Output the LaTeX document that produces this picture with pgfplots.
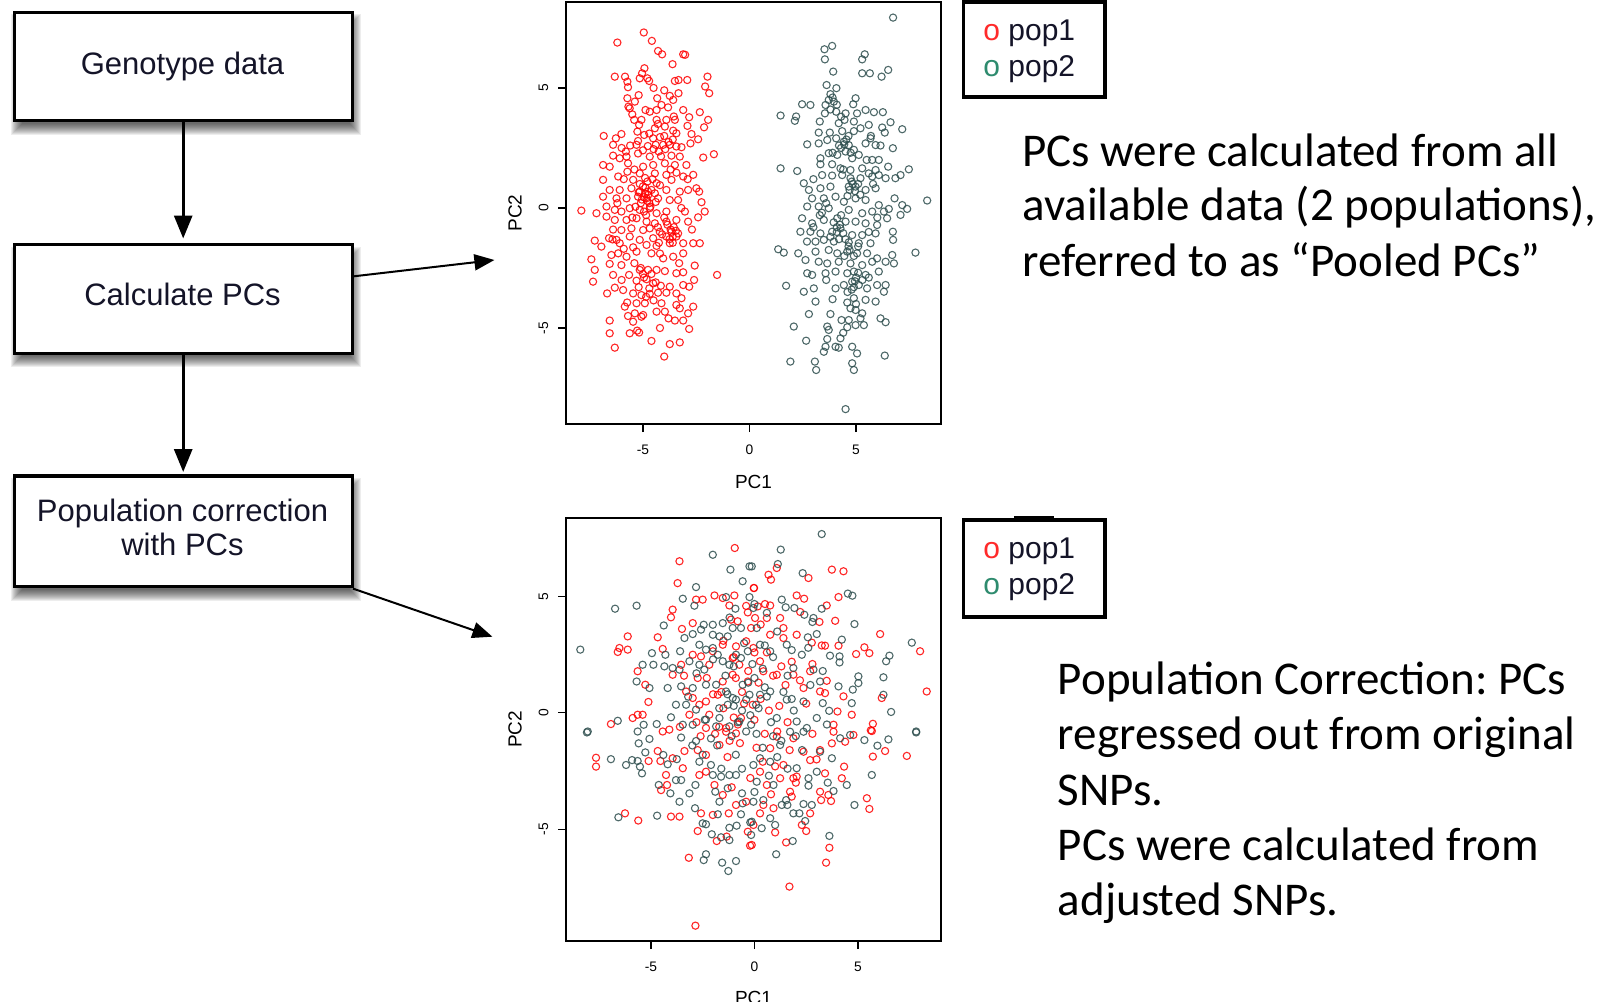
\documentclass[border=0pt]{standalone}
\usepackage{fontspec}
\setmainfont{Liberation Sans}
\newfontfamily\calibri{Carlito}
\usepackage{pgfplots}
\pgfplotsset{compat=1.18}
\usetikzlibrary{arrows.meta}

\definecolor{popred}{HTML}{FF0000}
\definecolor{popgrey}{HTML}{2F4F4F}
\definecolor{legred}{HTML}{FF2A2A}
\definecolor{leggreen}{HTML}{2E8B6E}
\definecolor{boxtext}{HTML}{141428}

% flowchart box with a soft drop shadow (coordinates in px, y downwards)
\newcommand{\flowbox}[4]{%
  \foreach \k in {0,...,11}{%
    \fill[black, opacity=0.07] ({#1-3+\k},{-(#2+2+\k)}) rectangle ({#3+9-\k},{-(#4+14-\k)});
  }%
  \filldraw[fill=white, draw=black, line width=1.6pt] (#1,-#2) rectangle (#3,-#4);
}

\pgfplotsset{
  pcaxis/.style={
    scale only axis,
    width=187.5pt,
    axis line style={line width=0.6pt},
    tick style={line width=0.6pt, black},
    tick align=outside,
    major tick length=4pt,
    tick pos=left,
    xtick={-5,0,5}, ytick={-5,0,5},
    /pgf/number format/assume math mode=true,
    ticklabel style={font=\fontsize{6.9pt}{8pt}\selectfont, text=black},
    xticklabel style={anchor=center, yshift=-8.7pt},
    yticklabel style={xshift=-7.25pt, rotate=90, anchor=center},
    xlabel={PC1}, ylabel={PC2},
    label style={font=\fontsize{9.5pt}{11pt}\selectfont},
    ylabel style={at={(axis description cs:-0.136,0.5)}, anchor=center},
    clip=false,
  },
  redpts/.style={only marks, mark=o, mark size=1.8pt,
    mark options={line width=0.55pt, draw=popred, draw opacity=0.85}},
  greypts/.style={only marks, mark=o, mark size=1.8pt,
    mark options={line width=0.55pt, draw=popgrey, draw opacity=0.85}},
}

\begin{document}
\frenchspacing
\begin{tikzpicture}[x=0.5pt,y=0.5pt]
\useasboundingbox (0,0) rectangle (1605,-1001);
\begin{scope}
\clip (0,0) rectangle (1605,-1001);

% ---------------- flowchart ----------------
\flowbox{14.3}{12.3}{352.1}{120.8}
\flowbox{14.3}{244.6}{352.1}{353.1}
\flowbox{14.3}{476}{352.1}{586.5}

\begin{scope}[font=\fontsize{15.5pt}{17pt}\selectfont, text=boxtext]
\node[anchor=base, inner sep=0] at (182.5,-74) {Genotype data};
\node[anchor=base, inner sep=0] at (182.5,-305) {Calculate PCs};
\node[anchor=base, inner sep=0] at (182.5,-521) {Population correction};
\node[anchor=base, inner sep=0] at (182.5,-555) {with PCs};
\end{scope}

\draw[line width=1.5pt, -{Triangle[length=11.5pt,width=9pt]}] (183.2,-122) -- (183.2,-238.5);
\draw[line width=1.5pt, -{Triangle[length=11.5pt,width=9pt]}] (183.2,-354) -- (183.2,-472);
\draw[line width=1pt, -{Triangle[length=10pt,width=8pt]}] (353,-276.4) -- (494.4,-260);
\draw[line width=1pt, -{Triangle[length=10pt,width=8pt]}] (353,-588.6) -- (492.4,-636.7);

% ---------------- pooled PCs ----------------
\begin{axis}[pcaxis,
  at={(283pt,-212pt)}, anchor=south west,
  height=211pt,
  xmin=-8.61, xmax=8.99, ymin=-9.0, ymax=8.58,
  xlabel style={at={(axis description cs:0.5,-0.1374)}, anchor=center},
]
\addplot[redpts] coordinates {
(-4.96,7.31) (-6.20,6.89) (-4.58,6.96) (-4.29,6.54) (-4.10,6.40) (-3.11,6.40) (-3.02,6.38) (-3.61,5.99)
(-4.93,5.82) (-5.04,5.61) (-6.32,5.47) (-5.84,5.47) (-5.15,5.40) (-4.79,5.40) (-4.71,5.29) (-5.73,5.26)
(-5.70,5.03) (-3.50,5.29) (-3.33,5.33) (-2.92,5.33) (-1.97,5.47) (-2.08,5.06) (-1.89,4.78) (-3.33,4.78)
(-3.74,4.67) (-3.58,4.50) (-4.33,4.57) (-5.73,4.57) (-5.38,4.43) (-5.68,4.22) (-5.62,4.15) (-3.82,4.19)
(-4.13,4.29) (-4.88,4.08) (-4.68,4.01) (-4.36,4.08) (-3.11,4.08) (-2.33,3.99) (-3.55,3.81) (-3.50,3.67)
(-2.83,3.78) (-1.94,3.67) (-2.13,3.36) (-5.41,3.67) (-5.07,3.67) (-4.36,3.67) (-3.90,3.67) (-5.18,3.46)
(-4.44,3.32) (-3.97,3.39) (-2.91,3.42) (-6.84,3.00) (-6.27,2.90) (-6.01,3.08) (-5.26,3.18) (-4.94,3.04)
(-3.58,3.22) (-3.43,3.11) (-2.72,3.08) (-2.41,2.86) (-2.77,2.69) (-4.52,2.90) (-5.23,2.79) (-6.40,2.63)
(-5.30,2.63) (-4.77,2.58) (-4.40,2.63) (-4.05,2.63) (-3.74,2.63) (-3.43,2.56) (-3.19,2.53) (-2.17,2.10)
(-1.67,2.24) (-5.80,2.35) (-5.77,2.14) (-5.23,2.27) (-4.68,2.14) (-4.26,2.35) (-3.66,2.18) (-3.27,2.14)
(-6.40,2.18) (-6.87,1.79) (-6.56,1.72) (-6.09,2.07) (-5.70,1.86) (-4.99,1.72) (-4.52,1.79) (-3.97,1.86)
(-3.50,1.79) (-2.96,1.79) (-5.73,1.51) (-5.15,1.44) (-4.44,1.44) (-3.90,1.38) (-3.43,1.47) (-2.64,1.38)
(-6.87,1.17) (-6.16,1.31) (-5.46,1.17) (-4.79,1.10) (-4.36,1.03) (-3.66,1.17) (-3.11,1.31) (-6.56,0.75)
(-6.09,0.75) (-5.54,0.82) (-5.15,0.68) (-4.76,0.68) (-4.44,0.61) (-3.90,0.75) (-3.27,0.68) (-2.88,0.75)
(-2.49,0.82) (-2.36,0.68) (-6.87,0.47) (-6.24,0.40) (-5.77,0.40) (-5.23,0.47) (-4.83,0.40) (-4.29,0.40)
(-3.74,0.33) (-3.35,0.33) (-2.25,0.24) (-7.89,-0.11) (-7.18,-0.22) (-6.71,0.06) (-6.32,-0.08) (-6.01,-0.15)
(-5.62,-0.01) (-5.15,-0.08) (-4.68,-0.01) (-4.36,-0.22) (-3.90,-0.15) (-3.03,-0.15) (-2.10,-0.15) (-2.41,-0.39)
(-6.71,-0.36) (-6.32,-0.50) (-5.77,-0.50) (-5.30,-0.43) (-4.83,-0.57) (-4.44,-0.64) (-3.90,-0.57) (-3.43,-0.50)
(-2.88,-0.57) (-6.01,-0.92) (-5.54,-0.85) (-4.99,-0.92) (-4.68,-0.85) (-4.21,-0.99) (-3.66,-0.99) (-3.35,-1.06)
(-7.26,-1.36) (-6.59,-1.26) (-6.43,-1.31) (-6.24,-1.33) (-5.62,-1.19) (-5.15,-1.33) (-4.52,-1.26) (-3.90,-1.19)
(-3.43,-1.19) (-6.95,-1.61) (-6.09,-1.47) (-5.46,-1.64) (-4.83,-1.54) (-4.36,-1.58) (-3.74,-1.47) (-3.11,-1.47)
(-2.64,-1.47) (-2.33,-1.47) (-7.42,-2.14) (-6.48,-1.96) (-6.16,-1.89) (-5.77,-2.03) (-5.30,-1.82) (-4.60,-1.89)
(-4.05,-2.10) (-3.58,-2.03) (-3.11,-1.89) (-7.26,-2.58) (-6.56,-2.33) (-6.01,-2.38) (-5.15,-2.58) (-4.76,-2.58)
(-4.36,-2.58) (-3.97,-2.63) (-3.43,-2.72) (-3.11,-2.68) (-2.57,-2.40) (-1.52,-2.79) (-7.34,-3.07) (-6.40,-2.79)
(-5.65,-2.79) (-5.30,-3.03) (-4.83,-2.97) (-4.52,-3.14) (-4.16,-3.24) (-3.74,-3.28) (-3.11,-3.21) (-2.83,-3.28)
(-6.68,-3.56) (-6.32,-3.32) (-5.93,-3.42) (-5.46,-3.56) (-5.07,-3.63) (-4.68,-3.58) (-4.29,-3.53) (-3.90,-3.53)
(-3.43,-3.56) (-3.19,-3.76) (-5.74,-3.94) (-5.30,-3.97) (-4.91,-3.97) (-4.13,-3.97) (-3.43,-4.04) (-2.64,-4.11)
(-5.85,-4.11) (-5.38,-4.39) (-4.99,-4.46) (-4.36,-4.32) (-3.97,-4.32) (-3.27,-4.18) (-2.88,-4.39) (-6.56,-4.69)
(-5.46,-4.74) (-5.07,-4.53) (-3.50,-4.69) (-3.11,-4.69) (-5.62,-5.22) (-5.27,-5.11) (-5.18,-5.19) (-6.56,-5.22)
(-2.83,-5.04) (-4.60,-5.54) (-3.74,-5.67) (-3.27,-5.60) (-6.32,-5.82) (-4.00,-6.19)
(-4.90,0.60) (-4.80,0.30) (-5.00,0.90) (-4.70,0.20) (-4.95,0.45) (-4.60,0.75) (-5.10,0.20) (-4.85,-0.30)
(-4.30,-0.80) (-3.70,-0.90) (-3.60,-1.20) (-4.10,-1.10) (-3.80,2.75) (-3.95,2.45) (-4.90,1.25) (-5.35,0.05)
(-4.25,-1.45) (-5.00,-2.75) (-4.70,-3.35) (-4.20,2.95)
(-4.88,0.85) (-4.75,0.55) (-5.05,0.35) (-4.65,0.05) (-4.95,-0.15) (-5.20,0.65) (-4.55,1.20) (-5.15,1.00)
(-4.40,0.25) (-4.20,0.95) (-3.55,-0.80) (-3.75,-1.30) (-3.45,-0.95) (-3.85,-0.70) (-3.60,-1.45) (-4.00,-0.40)
(-4.95,-2.90) (-4.60,-2.75) (-5.20,-3.30) (-4.40,-3.10) (-4.85,-3.70) (-4.50,-3.85) (-5.10,-2.50) (-4.50,2.45)
(-4.15,2.15) (-4.70,3.10) (-4.00,3.00) (-3.60,2.85) (-5.00,2.40) (-4.30,3.50) (-5.60,2.60) (-5.90,1.20)
(-6.20,0.20) (-5.50,-0.40) (-6.40,-0.90) (-5.90,-1.70) (-5.40,-2.30) (-4.20,-1.90) (-3.30,-2.30) (-3.20,0.00)
(-2.70,-0.90) (-2.90,1.20) (-3.70,1.60) (-5.40,1.60) (-6.00,2.50) (-5.50,3.90) (-4.00,4.90) (-4.50,5.00)
(-5.20,4.70) (-3.80,-4.60) (-5.70,-4.50) (-4.20,-5.00) (-6.00,-3.00) (-2.60,-3.00)
};
\addplot[greypts] coordinates {
(6.74,7.93) (3.52,6.61) (3.88,6.75) (3.54,6.19) (5.41,6.40) (5.29,6.19) (3.93,5.68) (5.29,5.61)
(5.65,5.61) (6.20,5.47) (6.51,5.75) (3.62,5.12) (4.08,4.99) (3.80,4.74) (3.72,4.50) (3.96,4.43)
(3.57,4.29) (4.98,4.57) (4.87,4.32) (2.47,4.32) (2.86,4.29) (1.46,3.85) (2.19,3.81) (2.13,3.63)
(3.54,3.94) (4.07,4.01) (4.51,3.94) (5.05,3.94) (5.45,4.08) (5.84,3.99) (6.26,3.99) (6.62,3.57)
(7.17,3.28) (3.25,3.14) (3.77,3.14) (4.19,3.53) (4.46,3.67) (4.90,3.60) (5.21,3.32) (5.60,3.46)
(6.23,3.35) (6.35,3.14) (2.71,2.65) (3.25,2.69) (3.65,2.83) (4.07,2.90) (4.43,2.76) (4.66,2.62)
(4.90,2.42) (5.45,2.69) (5.68,2.90) (5.92,2.62) (6.15,2.60) (6.73,2.49) (3.33,2.07) (3.72,2.28)
(4.12,2.21) (4.51,2.35) (4.82,2.07) (5.13,2.21) (5.76,2.00) (6.07,2.00) (1.46,1.65) (2.24,1.54)
(3.33,1.82) (3.88,1.82) (4.27,1.65) (4.74,1.58) (5.29,1.65) (5.60,1.44) (5.92,1.58) (6.51,1.72)
(7.48,1.61) (7.09,1.37) (3.41,1.37) (3.88,1.35) (4.35,1.37) (4.74,1.24) (5.21,1.24) (5.76,1.31)
(6.07,1.37) (6.39,1.24) (6.85,1.24) (2.55,1.03) (2.79,0.75) (3.33,0.82) (3.80,0.89) (4.66,0.89)
(4.98,0.89) (5.45,0.75) (5.92,0.82) (6.81,0.40) (7.17,0.12) (8.34,0.31) (2.94,0.40) (3.49,0.40)
(4.04,0.47) (4.43,0.26) (4.98,0.40) (5.45,0.33) (6.07,0.12) (6.54,-0.04) (7.40,-0.04) (2.71,0.06)
(3.25,0.06) (3.72,-0.01) (4.66,-0.08) (5.29,-0.22) (5.76,-0.15) (6.31,-0.15) (7.09,-0.29) (6.46,-0.43)
(2.47,-0.43) (2.94,-0.64) (3.49,-0.50) (4.12,-0.43) (4.51,-0.57) (4.98,-0.57) (5.45,-0.64) (5.99,-0.71)
(2.39,-0.99) (2.86,-0.99) (3.33,-1.06) (3.88,-0.99) (4.27,-0.85) (4.82,-1.13) (5.29,-1.13) (5.92,-1.06)
(6.73,-0.99) (6.74,-1.33) (3.49,-1.33) (3.96,-1.40) (4.66,-1.43) (5.13,-1.47) (5.68,-1.47) (1.35,-1.72)
(1.61,-1.86) (2.29,-1.89) (2.63,-2.17) (3.10,-1.82) (3.72,-1.75) (4.12,-1.89) (4.59,-1.82) (5.05,-1.89)
(5.52,-1.89) (5.99,-2.10) (6.70,-1.96) (7.79,-1.86) (6.78,-2.31) (3.25,-2.24) (3.65,-2.31) (4.19,-2.24)
(4.74,-2.31) (5.29,-2.38) (5.76,-2.24) (6.39,-2.24) (2.71,-2.72) (2.94,-2.79) (3.57,-2.72) (4.04,-2.65)
(4.59,-2.72) (4.90,-2.65) (5.45,-2.79) (6.07,-2.65) (1.72,-3.24) (2.55,-3.49) (3.02,-3.35) (4.04,-3.35)
(4.43,-3.21) (4.82,-3.07) (5.13,-3.21) (5.52,-3.35) (5.99,-3.21) (6.39,-3.21) (6.31,-3.49) (3.10,-3.90)
(4.59,-3.94) (4.90,-3.76) (5.45,-3.83) (5.92,-3.90) (4.74,-4.18) (4.98,-4.25) (5.29,-4.39) (2.79,-4.42)
(3.80,-4.42) (4.32,-4.67) (4.66,-4.67) (5.21,-4.60) (5.37,-4.88) (6.15,-4.60) (6.39,-4.76) (2.08,-4.94)
(3.65,-4.94) (3.72,-5.08) (4.59,-4.97) (4.98,-4.88) (2.66,-5.53) (3.65,-5.46) (4.27,-5.43) (3.57,-5.78)
(4.04,-5.78) (4.19,-5.82) (3.49,-5.99) (4.82,-5.78) (5.05,-6.06) (6.35,-6.15) (1.92,-6.40) (3.07,-6.40)
(3.13,-6.75) (4.82,-6.47) (4.90,-6.75) (4.51,-8.38)
(4.55,2.85) (4.30,2.50) (4.85,1.00) (4.70,0.75) (4.25,-0.70) (4.10,-1.00) (4.65,-1.60) (4.50,-1.30)
(5.00,-2.90) (4.90,-3.30) (3.90,2.30) (3.60,0.20) (3.30,-0.30) (3.00,-0.80)
(4.45,2.65) (4.65,3.00) (4.20,2.60) (4.75,2.30) (4.35,3.20) (4.90,3.20) (4.80,1.10) (4.95,0.70)
(5.10,1.00) (4.60,0.50) (5.20,0.55) (4.40,1.60) (4.10,-0.80) (4.40,-1.05) (3.95,-0.60) (4.20,-1.30)
(3.80,-1.20) (4.30,-0.30) (4.70,-1.75) (4.90,-2.00) (4.45,-2.00) (5.10,-1.60) (4.95,-3.05) (5.10,-2.70)
(4.80,-3.40) (5.30,-3.00) (4.60,-3.50) (3.90,4.60) (4.10,4.30) (3.80,4.10) (4.30,3.80) (5.50,2.00)
(5.80,1.00) (6.00,-0.40) (5.60,-1.00) (3.40,-0.20) (3.00,1.20) (3.10,-1.40) (2.70,-1.40) (3.60,-3.00)
(5.60,-2.90) (5.00,-4.00) (3.90,-3.80) (4.40,-5.20) (5.70,3.00) (3.30,3.60)
};
\end{axis}

% ---------------- adjusted PCs ----------------
\begin{axis}[pcaxis,
  at={(283pt,-470.5pt)}, anchor=south west,
  height=211.5pt,
  xmin=-9.10, xmax=9.01, ymin=-9.81, ymax=8.38,
  xlabel style={at={(axis description cs:0.5,-0.1348)}, anchor=center},
]
\addplot[redpts] coordinates {
(-0.95,7.09) (-3.62,6.52) (-3.71,5.58) (-0.03,5.37) (-1.93,5.05) (-1.53,4.94) (-0.97,5.05) (-1.21,4.62)
(-2.82,4.87) (-2.50,4.87) (-3.95,4.44) (-4.03,4.11) (-0.32,4.32) (0.16,4.58) (-6.12,3.29) (-6.52,2.79)
(-6.60,2.62) (-6.12,2.72) (-4.67,3.25) (-3.50,3.61) (-2.98,3.86) (-4.43,2.75) (-5.64,1.79) (-5.27,1.21)
(-5.12,0.47) (-5.64,-0.08) (-5.88,-0.22) (-5.40,-0.08) (-6.93,-0.48) (-3.14,-0.08) (-2.66,0.35) (-2.34,0.49)
(-3.54,2.07) (-3.95,1.64) (-2.98,2.50) (-2.58,2.43) (-2.18,2.07) (-2.74,1.50) (-1.53,1.35) (-1.05,1.64)
(-0.73,2.07) (-0.89,2.86) (-0.40,3.08) (-0.16,3.65) (-0.81,3.94) (-1.13,4.01) (-2.01,2.65) (-1.53,2.93)
(-1.05,2.36) (-1.77,0.78) (-2.34,-0.65) (-1.37,-0.65) (-0.65,-0.22) (-0.08,0.35) (-0.32,1.35) (-2.18,-0.08)
(-3.30,0.92) (-2.98,0.64) (-4.43,-0.80) (-4.11,-0.72)
(0.68,5.94) (0.80,5.73) (1.08,6.23) (2.61,5.80) (3.74,6.16) (4.30,6.09) (2.04,5.05) (2.40,4.91)
(3.49,4.62) (4.06,4.98) (3.14,3.91) (3.90,3.96) (6.07,3.39) (8.00,2.65) (8.32,0.92) (-0.02,5.37)
(0.51,4.68) (0.76,4.62) (0.03,4.08) (0.60,4.08) (1.24,4.08) (1.40,3.65) (2.21,4.34) (2.77,3.02)
(3.25,2.90) (3.41,2.89) (4.06,2.89) (4.91,2.53) (5.31,2.82) (5.55,2.57) (6.15,0.64) (4.30,0.71)
(4.01,0.06) (4.70,-0.08) (5.72,-0.47) (3.82,-0.51) (5.62,-0.75) (3.17,0.92) (3.41,0.85) (2.37,1.07)
(1.88,1.64) (1.08,1.64) (0.43,1.79) (-0.05,2.79) (0.27,2.22) (2.69,1.79) (3.49,1.38) (1.40,3.22)
(0.76,3.36) (2.04,3.36)
(-7.65,-1.93) (-7.65,-2.31) (-5.11,-2.07) (-4.54,-2.07) (-4.67,-1.64) (-3.38,-1.64) (-4.51,-3.32) (-4.22,-3.10)
(-6.25,-4.32) (-5.61,-4.63) (-4.03,-4.46) (-3.62,-4.46) (-2.58,-4.32) (-2.01,-4.39) (-1.24,-4.32) (-2.74,-5.08)
(-1.82,-5.51) (-1.34,-5.32) (-0.32,-5.11) (-0.21,-5.71) (-3.17,-6.23) (-2.85,-9.15) (-2.66,-2.67) (-2.34,-2.53)
(-1.93,-3.10) (-1.53,-3.53) (-0.89,-3.96) (-0.40,-3.82) (-2.74,-1.60) (-2.34,-1.81) (-1.69,-1.38) (-1.37,-0.81)
(-0.89,-0.88) (-3.95,-1.95) (-3.46,-2.38) (-4.27,-2.67)
(5.67,-0.78) (5.72,-1.88) (6.31,-1.64) (7.36,-1.85) (4.33,-2.31) (4.22,-2.81) (3.41,-2.60) (2.04,-2.74)
(1.88,-2.81) (3.17,-3.39) (3.57,-3.53) (3.70,-3.79) (3.22,-3.75) (5.43,-3.67) (5.55,-4.13) (1.72,-3.39)
(1.80,-3.60) (2.69,-4.32) (2.29,-4.82) (2.50,-5.08) (1.00,-5.14) (1.53,-5.57) (3.62,-5.80) (3.46,-6.44)
(1.69,-7.47) (0.43,-3.96) (0.27,-4.32) (0.92,-4.10) (-0.05,-4.82) (2.69,-2.03) (2.37,-1.67) (3.17,-1.60)
(3.74,-1.31) (4.38,-1.24) (4.78,-0.95) (3.82,-0.81) (1.88,-1.09) (1.08,-1.02) (0.76,-1.52) (0.27,-2.53)
(0.60,-3.10) (1.24,-2.81) (1.40,-2.24) (-0.13,-5.68)
(-1.50,0.20) (-0.80,-0.50) (0.30,0.60) (-0.30,1.80) (0.50,-0.90) (1.20,0.30) (-1.20,-1.20) (-2.00,0.80)
(0.90,1.60) (-0.60,0.90) (1.60,-0.40) (-1.70,-0.60) (0.10,-1.50) (-1.00,2.40) (0.60,2.60) (2.20,1.40)
(-2.60,-1.00) (1.00,-2.30) (-0.20,-2.80) (1.80,2.20)
(-1.00,-0.20) (-0.50,0.40) (0.00,-0.30) (0.70,0.10) (1.10,-0.80) (-1.60,0.90) (-0.90,1.50) (0.20,1.30)
(1.50,1.20) (2.50,0.40) (-2.30,1.50) (-1.30,-1.90) (0.40,-2.10) (1.70,-1.60) (2.80,-0.90) (-0.70,-1.30)
(-1.90,-0.90) (-2.80,-0.40) (0.00,2.60) (1.30,2.00) (-1.50,3.10) (0.30,3.80) (2.80,2.10) (3.00,-2.00)
(-3.40,1.60) (-3.60,-0.60) (-1.10,-3.20) (0.80,-3.50) (2.00,-3.00) (-0.40,4.60)
};
\addplot[greypts] coordinates {
(-2.01,6.80) (-1.16,6.16) (-0.24,6.30) (-0.57,5.66) (-2.82,5.41) (-3.46,4.91) (-2.90,4.61) (-1.37,4.98)
(-0.92,4.48) (-0.24,4.98) (0.00,4.68) (-6.73,4.48) (-5.69,4.61) (-4.38,3.76) (-3.38,3.22) (-2.98,3.39)
(-2.58,3.58) (-2.45,3.79) (-2.01,3.79) (-1.53,3.86) (-1.05,3.65) (-0.65,3.65) (-8.41,2.72) (-4.95,2.57)
(-4.30,2.50) (-5.40,2.07) (-4.88,2.07) (-4.35,2.00) (-3.95,1.93) (-3.62,1.86) (-3.14,2.22) (-2.66,2.07)
(-2.42,1.86) (-2.01,2.79) (-1.77,2.50) (-1.53,2.22) (-1.21,2.07) (-0.89,2.50) (-0.65,2.36) (-0.32,2.65)
(-2.01,3.36) (-1.69,3.29) (-1.29,3.29) (-2.66,2.93) (-2.34,2.72) (-3.59,2.65) (-5.69,1.35) (-5.07,1.07)
(-4.19,1.07) (-3.54,1.14) (-2.98,1.07) (-2.34,1.21) (-1.85,1.21) (-1.37,0.92) (-1.05,0.64) (-0.57,1.21)
(-0.24,0.78) (0.00,1.50) (-3.79,0.35) (-3.30,0.35) (-2.82,0.14) (-2.34,-0.29) (-1.69,-0.22) (-1.29,0.35)
(-0.89,0.57) (-0.40,0.57) (0.08,0.35) (-6.60,-0.34) (-5.35,-0.51) (-4.72,-0.48) (-4.03,-0.19) (-3.46,-0.51)
(-2.98,-0.51) (-0.73,-0.37) (-0.16,-0.51) (-8.05,-0.80) (-5.64,-0.80) (-1.85,-0.58) (-1.21,-0.58)
(3.25,7.69) (1.27,7.02) (1.13,6.40) (2.33,6.01) (-0.13,6.30) (1.32,4.87) (1.51,4.54) (1.93,4.51)
(2.41,4.22) (2.85,4.08) (2.80,3.91) (3.25,4.48) (4.51,5.13) (4.73,5.04) (4.83,3.82) (3.01,3.39)
(2.58,3.25) (4.22,3.15) (3.65,2.46) (4.11,2.43) (4.11,2.17) (6.36,2.22) (6.52,2.46) (7.60,3.02)
(5.02,1.57) (5.02,1.28) (6.23,1.53) (4.06,1.14) (4.75,1.00) (6.23,0.78) (4.70,0.42) (6.60,0.04)
(7.81,-0.80) (3.61,0.09) (3.30,0.42) (3.17,1.35) (2.85,1.86) (2.29,2.50) (1.56,2.93) (0.76,2.65)
(0.27,2.93) (-0.05,4.51) (0.11,3.65) (1.88,1.93) (2.37,0.49) (1.56,0.57) (0.76,0.92) (0.27,0.78)
(1.08,-0.22) (2.04,-0.37) (3.01,-0.22) (2.53,-0.65)
(-8.09,-0.84) (-6.93,-1.99) (-6.20,-2.24) (-5.91,-2.03) (-5.64,-2.07) (-5.53,-2.31) (-5.43,-2.60) (-5.59,-1.31)
(-5.27,-1.70) (-5.07,-1.12) (-4.40,-1.81) (-4.19,-2.21) (-3.75,-1.99) (-3.54,-1.06) (-2.82,-1.21) (-2.66,-2.10)
(-2.10,-2.24) (-2.01,-2.67) (-1.61,-2.74) (-1.21,-2.67) (-0.89,-2.67) (-4.62,-3.10) (-4.06,-3.46) (-3.62,-3.82)
(-3.14,-3.46) (-2.85,-3.10) (-3.79,-2.89) (-3.54,-2.89) (-1.89,-3.39) (-1.69,-3.82) (-1.29,-3.24) (-0.60,-3.46)
(-0.57,-3.89) (-2.87,-4.10) (-1.77,-4.36) (-0.65,-4.36) (-0.20,-4.71) (-0.86,-4.85) (-1.21,-4.94) (-2.50,-4.75)
(-2.34,-4.79) (-2.06,-5.22) (-1.61,-5.35) (-1.21,-5.47) (-4.70,-4.42) (-6.57,-4.49) (-2.34,-6.08) (-2.45,-6.33)
(-1.56,-6.44) (-0.89,-6.37) (-1.26,-6.80) (-0.16,-5.25)
(7.81,-0.84) (6.47,-1.14) (5.94,-1.41) (5.67,-2.67) (5.31,-1.17) (4.62,-0.95) (4.14,-1.09) (3.74,-1.95)
(3.17,-1.67) (3.01,-2.53) (2.61,-2.81) (2.61,-3.13) (3.54,-3.00) (3.82,-3.36) (4.46,-3.10) (4.83,-3.96)
(2.37,-3.92) (2.77,-3.96) (2.17,-4.32) (2.45,-4.65) (1.88,-4.32) (1.53,-3.75) (1.32,-3.96) (1.59,-3.96)
(0.43,-3.75) (-0.05,-3.82) (-0.13,-4.68) (0.35,-4.96) (1.00,-4.82) (1.85,-5.51) (3.62,-5.29) (1.05,-6.08)
(0.76,-4.53) (0.11,-2.96) (0.27,-1.95) (0.76,-2.10) (1.24,-1.38) (1.72,-0.81) (2.37,-0.81) (2.04,-2.38)
(0.92,-3.10) (-0.05,-2.24)
(-0.60,0.10) (0.20,0.20) (0.50,1.10) (-1.00,0.30) (-0.40,-0.80) (0.80,-0.40) (1.40,0.90) (-1.40,1.60)
(-0.10,2.10) (0.90,2.40) (1.90,0.10) (-1.80,-1.40) (-0.90,-1.80) (0.40,-1.50) (1.30,-1.20) (2.30,-1.60)
(-2.40,-0.30) (-0.50,3.00) (1.10,3.50) (-1.60,-2.40) (0.00,-3.40) (2.60,2.80) (-2.80,1.70)
(-0.20,-0.10) (0.60,0.70) (-1.30,0.80) (-0.80,-0.40) (0.90,-1.00) (1.80,0.60) (-1.70,0.20) (-0.30,1.30)
(0.40,1.90) (1.60,1.60) (-2.10,-1.10) (-1.10,-1.00) (0.10,-0.90) (1.10,-1.90) (2.00,-1.00) (-1.00,2.00)
(-2.00,2.30) (0.50,2.90) (1.80,2.70) (2.70,1.20) (-0.60,-2.40) (0.70,-2.70) (1.60,-2.40) (-2.50,-1.80)
(-3.20,0.70) (-3.00,-1.40) (3.50,-0.50) (3.30,1.80) (-1.20,4.10) (0.60,4.30)
};
\end{axis}

% ---------------- legends ----------------
\draw[line width=1.6pt] (963.5,-2) rectangle (1105,-97);
\draw[line width=1.6pt] (963.5,-520) rectangle (1105,-617);
\draw[line width=1.6pt] (1014,-517.5) -- (1054,-517.5);
\begin{scope}[font=\fontsize{15pt}{17pt}\selectfont, text=boxtext]
\node[anchor=base west, inner sep=0] at (983,-40) {\textcolor{legred}{o} pop1};
\node[anchor=base west, inner sep=0] at (983,-76) {\textcolor{leggreen}{o} pop2};
\node[anchor=base west, inner sep=0] at (983,-558.5) {\textcolor{legred}{o} pop1};
\node[anchor=base west, inner sep=0] at (983,-594.5) {\textcolor{leggreen}{o} pop2};
\end{scope}

% ---------------- notes ----------------
\begin{scope}[font=\calibri\fontsize{23.5pt}{27.7pt}\selectfont]
\node[anchor=base west, inner sep=0] at (1022,-166) {PCs were calculated from all};
\node[anchor=base west, inner sep=0] at (1022,-220.5) {available data (2 populations),};
\node[anchor=base west, inner sep=0] at (1022,-276.5) {referred to as “Pooled PCs”};
\node[anchor=base west, inner sep=0] at (1057.5,-694) {Population Correction: PCs};
\node[anchor=base west, inner sep=0] at (1057.5,-749.5) {regressed out from original};
\node[anchor=base west, inner sep=0] at (1057.5,-805) {SNPs.};
\node[anchor=base west, inner sep=0] at (1057.5,-860) {PCs were calculated from};
\node[anchor=base west, inner sep=0] at (1057.5,-915.5) {adjusted SNPs.};
\end{scope}

\end{scope}
\end{tikzpicture}
\end{document}
